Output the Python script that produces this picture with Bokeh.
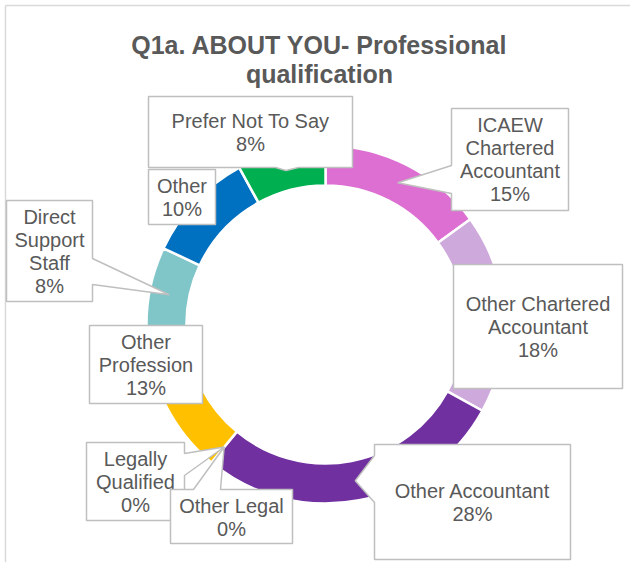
import math
from bokeh.plotting import figure
from bokeh.models import Range1d, ColumnDataSource
from bokeh.core.properties import value
from bokeh.embed import file_html
from bokeh.resources import INLINE

# ---------------- data ----------------
categories = ["ICAEW Chartered Accountant", "Other Chartered Accountant", "Other Accountant",
              "Other Legal", "Legally Qualified", "Other Profession",
              "Direct Support Staff", "Other", "Prefer Not To Say"]
values = [15, 18, 28, 0, 0, 13, 8, 10, 8]
colors = ["#DC6FD1", "#CEA9DC", "#7030A0", "#A5A5A5", "#4472C4", "#FFC000",
          "#80C6C9", "#0070C0", "#00B050"]
label_lines = [["ICAEW", "Chartered", "Accountant"], ["Other Chartered", "Accountant"],
               ["Other Accountant"], ["Other Legal"], ["Legally", "Qualified"],
               ["Other", "Profession"], ["Direct", "Support", "Staff"], ["Other"],
               ["Prefer Not To Say"]]
title_lines = ["Q1a. ABOUT YOU- Professional", "qualification"]

# ---------------- layout (reference pixel coordinates, y downwards) ----------------
FONT = value("Liberation Sans")
TXT = "#595959"
W, H = 630, 562
CX, CY = 325, 324
R_OUT, R_IN = 179, 139
R_MID = (R_OUT + R_IN) / 2

callouts = {
    "ICAEW Chartered Accountant": dict(l=451, r=568, t=108, b=210, side="left", base=(165, 193)),
    "Other Chartered Accountant": dict(l=453, r=622, t=264, b=388, side=None),
    "Other Accountant": dict(l=374, r=570, t=444, b=559, side="left", base=(455, 502)),
    "Other Legal": dict(l=170, r=292, t=489, b=543, side="top", base=(193, 220), ty=517),
    "Legally Qualified": dict(l=86, r=184, t=442, b=520, side="right", base=(453, 475)),
    "Other Profession": dict(l=89, r=202, t=325, b=403, side=None),
    "Direct Support Staff": dict(l=6, r=92, t=200, b=301, side="right", base=(258, 284)),
    "Other": dict(l=148, r=215, t=169, b=224, side=None),
    "Prefer Not To Say": dict(l=148, r=352, t=96, b=167, side="bottom", base=(275, 298)),
}


def Y(ry):
    return H - ry


p = figure(width=W, height=H, x_range=Range1d(0, W), y_range=Range1d(0, H),
           output_backend="svg", toolbar_location=None, min_border=0,
           x_axis_location=None, y_axis_location=None)
p.grid.visible = False
p.outline_line_color = None
p.background_fill_color = "white"
p.border_fill_color = "white"

# chart border
p.line([5, 5], [Y(5), Y(562)], line_color="#D9D9D9", line_width=1.5)
p.line([5, 630], [Y(5), Y(5)], line_color="#D9D9D9", line_width=1.5)

# title
p.text(x=[319, 319], y=[Y(44), Y(73)], text=title_lines, text_font=FONT,
       text_font_size="25px", text_font_style="bold", text_color=TXT,
       text_align="center", text_baseline="middle")

# donut
total = float(sum(values))
cum = 0.0
starts, ends, mids = [], [], []
for v in values:
    a0 = 2 * math.pi * cum / total
    a1 = 2 * math.pi * (cum + v) / total
    starts.append(math.pi / 2 - a0)
    ends.append(math.pi / 2 - a1)
    mids.append((a0 + a1) / 2)
    cum += v

keep = [i for i, v in enumerate(values) if v > 0]
src = ColumnDataSource(dict(
    start=[starts[i] for i in keep], end=[ends[i] for i in keep],
    color=[colors[i] for i in keep]))
p.annular_wedge(x=CX, y=Y(CY), inner_radius=R_IN, outer_radius=R_OUT,
                start_angle="start", end_angle="end", direction="clock",
                fill_color="color", line_color="white", line_width=2.5, source=src)

# callouts
for i in reversed(range(len(categories))):
    c = callouts[categories[i]]
    l, r, t, b = c["l"], c["r"], c["t"], c["b"]
    tip = (CX + R_MID * math.sin(mids[i]), CY - R_MID * math.cos(mids[i]))
    side = c["side"]
    pts = [(l, t)]
    if side == "top":
        pts += [(c["base"][0], t), tip, (c["base"][1], t)]
    pts.append((r, t))
    if side == "right":
        pts += [(r, c["base"][0]), tip, (r, c["base"][1])]
    pts.append((r, b))
    if side == "bottom":
        pts += [(c["base"][1], b), tip, (c["base"][0], b)]
    pts.append((l, b))
    if side == "left":
        pts += [(l, c["base"][1]), tip, (l, c["base"][0])]
    p.patch([q[0] for q in pts], [Y(q[1]) for q in pts], fill_color="white",
            line_color="#BFBFBF", line_width=1.5)

    lines = label_lines[i] + [f"{values[i]}%"]
    tx = (l + r) / 2
    ty = c.get("ty", (t + b) / 2)
    n = len(lines)
    ys = [Y(ty + (k - (n - 1) / 2) * 23) for k in range(n)]
    p.text(x=[tx] * n, y=ys, text=lines, text_font=FONT, text_font_size="20px",
           text_color=TXT, text_align="center", text_baseline="middle")

open("out.html", "w").write(file_html(p, INLINE))
